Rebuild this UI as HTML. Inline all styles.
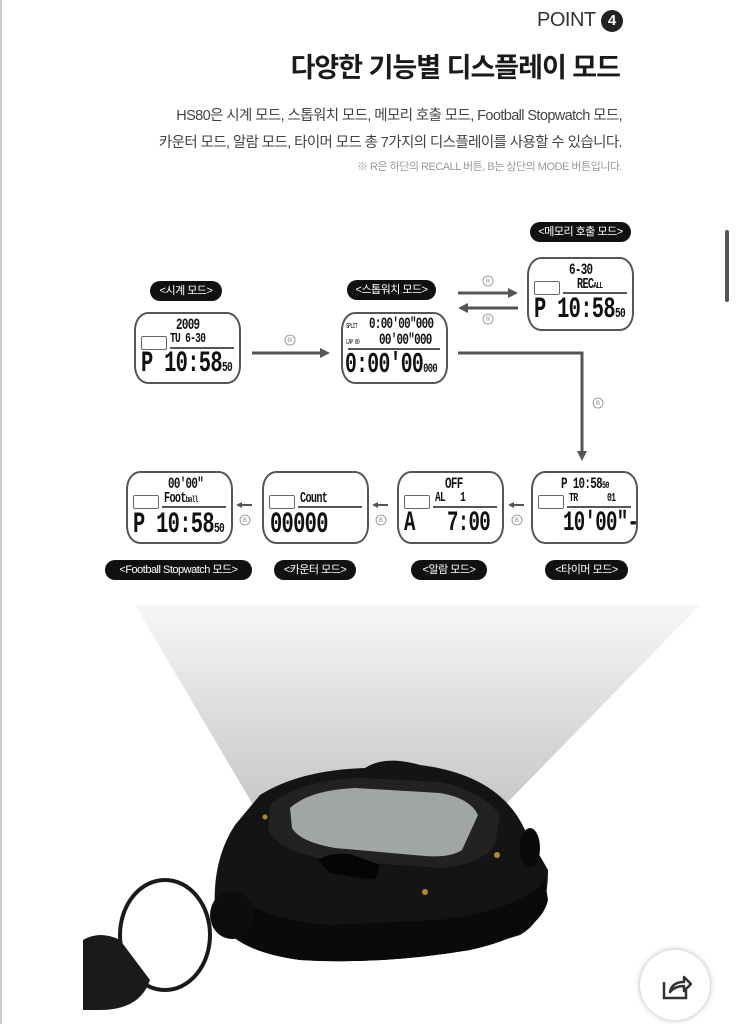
<!DOCTYPE html>
<html><head><meta charset="utf-8"><style>
body{margin:0;width:736px;height:1024px;background:#fff;position:relative;overflow:hidden;font-family:"Liberation Sans","Noto Sans CJK KR",sans-serif;}
.a{position:absolute}
.t{color:#222}
.lbl{position:absolute;background:#111;color:#fff;border-radius:12px;font-size:11px;height:20px;line-height:20px;text-align:center;letter-spacing:-0.5px}
.scr{position:absolute;border:2px solid #555;border-radius:14px/18px;background:#fff;font-family:"Liberation Mono",monospace;color:#111;overflow:hidden}
.scr .box{position:absolute;width:24px;height:12px;border:1.5px solid #666;border-radius:2px}
.scr .ln{position:absolute;height:1.5px;background:#555}
.scr span{position:absolute;white-space:nowrap;font-weight:bold;letter-spacing:-1px;transform:scaleX(0.68);transform-origin:0 0}
</style></head><body>
<div class="a" style="left:0;top:0;width:2px;height:1024px;background:#ccc"></div>
<div class="a" style="left:725px;top:230px;width:4px;height:72px;background:#555;border-radius:2px"></div>
<div class="a t" style="left:537px;top:9px;font-size:20px;color:#333;letter-spacing:-0.5px">POINT</div>
<div class="a" style="left:601px;top:10px;width:22px;height:22px;border-radius:50%;background:#222;color:#fff;font-size:15px;text-align:center;line-height:22px;font-weight:bold">4</div>
<div class="a t" style="right:116px;top:46px;font-size:27px;font-weight:bold;letter-spacing:-1px;color:#1a1a1a">다양한 기능별 디스플레이 모드</div>
<div class="a" style="right:114px;top:104px;font-size:14.5px;color:#444;letter-spacing:-0.6px">HS80은 시계 모드, 스톱워치 모드, 메모리 호출 모드, Football Stopwatch 모드,</div>
<div class="a" style="right:114px;top:131px;font-size:14.5px;color:#444;letter-spacing:-0.6px">카운터 모드, 알람 모드, 타이머 모드 총 7가지의 디스플레이를 사용할 수 있습니다.</div>
<div class="a" style="right:114px;top:158px;font-size:11px;color:#999;letter-spacing:-0.5px">※ R은 하단의 RECALL 버튼, B는 상단의 MODE 버튼입니다.</div>

<div class="lbl" style="left:530px;top:222px;width:101px">&lt;메모리 호출 모드&gt;</div>
<div class="lbl" style="left:150px;top:281px;width:72px">&lt;시계 모드&gt;</div>
<div class="lbl" style="left:347px;top:280px;width:89px">&lt;스톱워치 모드&gt;</div>
<div class="lbl" style="left:105px;top:560px;width:147px">&lt;Football Stopwatch 모드&gt;</div>
<div class="lbl" style="left:274px;top:560px;width:82px">&lt;카운터 모드&gt;</div>
<div class="lbl" style="left:411px;top:560px;width:76px">&lt;알람 모드&gt;</div>
<div class="lbl" style="left:545px;top:560px;width:83px">&lt;타이머 모드&gt;</div>

<!-- clock -->
<div class="scr" style="left:134px;top:312px;width:103px;height:68px">
<span style="left:40px;top:2px;font-size:16px">2009</span><span style="left:34px;top:17px;font-size:14px">TU 6-30</span>
<div class="box" style="left:5px;top:22px"></div><div class="ln" style="left:34px;top:33px;width:64px"></div>
<span style="left:5px;top:33px;font-size:30px">P 10:58<small style="font-size:14px">50</small></span></div>
<!-- stopwatch -->
<div class="scr" style="left:341px;top:312px;width:103px;height:68px">
<span style="left:3px;top:9px;font-size:7px;font-weight:normal">SPLIT</span><span style="left:26px;top:1px;font-size:16px">0:00'00"000</span>
<span style="left:3px;top:25px;font-size:7px;font-weight:normal">LAP 00</span><span style="left:36px;top:17px;font-size:16px">00'00"000</span>
<div class="ln" style="left:5px;top:34px;width:92px"></div>
<span style="left:2px;top:34px;font-size:29px">0:00'00<small style="font-size:13px">000</small></span></div>
<!-- memory -->
<div class="scr" style="left:527px;top:257px;width:103px;height:70px">
<span style="left:40px;top:2px;font-size:16px">6-30</span><span style="left:48px;top:17px;font-size:15px">REC<small style="font-size:9px">ALL</small></span>
<div class="box" style="left:5px;top:22px"></div><div class="ln" style="left:34px;top:33px;width:64px"></div>
<span style="left:5px;top:34px;font-size:30px">P 10:58<small style="font-size:14px">50</small></span></div>
<!-- timer -->
<div class="scr" style="left:531px;top:471px;width:103px;height:69px">
<span style="left:28px;top:2px;font-size:16px">P 10:58<small style="font-size:10px">50</small></span><span style="left:36px;top:18px;font-size:12px">TR&nbsp;&nbsp;&nbsp;&nbsp;&nbsp;&nbsp;&nbsp;01</span>
<div class="box" style="left:5px;top:22px"></div><div class="ln" style="left:34px;top:33px;width:64px"></div>
<span style="left:30px;top:35px;font-size:28px">10'00"-1</span></div>
<!-- alarm -->
<div class="scr" style="left:397px;top:471px;width:103px;height:69px">
<span style="left:46px;top:2px;font-size:16px">OFF</span><span style="left:36px;top:17px;font-size:14px">AL&nbsp;&nbsp;&nbsp;1</span>
<div class="box" style="left:5px;top:22px"></div><div class="ln" style="left:34px;top:33px;width:64px"></div>
<span style="left:5px;top:35px;font-size:28px">A&nbsp;&nbsp;&nbsp;7:00</span></div>
<!-- counter -->
<div class="scr" style="left:262px;top:471px;width:103px;height:69px">
<span style="left:36px;top:17px;font-size:15px">Count</span>
<div class="box" style="left:5px;top:22px"></div><div class="ln" style="left:34px;top:33px;width:64px"></div>
<span style="left:6px;top:35px;font-size:30px">00000</span></div>
<!-- football -->
<div class="scr" style="left:126px;top:471px;width:103px;height:69px">
<span style="left:40px;top:2px;font-size:16px">00'00"</span><span style="left:36px;top:17px;font-size:15px">Foot<small style="font-size:9px">ball</small></span>
<div class="box" style="left:5px;top:22px"></div><div class="ln" style="left:34px;top:33px;width:64px"></div>
<span style="left:5px;top:35px;font-size:30px">P 10:58<small style="font-size:14px">50</small></span></div>

<!-- arrows -->
<svg class="a" style="left:0;top:0" width="736" height="600">
<g fill="#555" stroke="#555" stroke-width="3">
<line x1="252" y1="353" x2="322" y2="353"/><polygon points="330,353 320,348 320,358" stroke="none"/>
<line x1="458" y1="293" x2="510" y2="293"/><polygon points="518,293 508,288 508,298" stroke="none"/>
<line x1="466" y1="308" x2="518" y2="308"/><polygon points="458,308 468,303 468,313" stroke="none"/>
<polyline points="458,353 582,353 582,452" fill="none"/><polygon points="582,461 577,451 587,451" stroke="none"/>
<g stroke-width="2"><line x1="524" y1="505" x2="513" y2="505"/><line x1="388" y1="505" x2="377" y2="505"/><line x1="252" y1="505" x2="241" y2="505"/></g>
<polygon points="508,505 514,502 514,508" stroke="none"/><polygon points="372,505 378,502 378,508" stroke="none"/><polygon points="236,505 242,502 242,508" stroke="none"/>
</g>
<g fill="none" stroke="#888" stroke-width="0.8"><circle cx="290" cy="340" r="5"/><circle cx="488" cy="281" r="5"/><circle cx="488" cy="319" r="5"/><circle cx="598" cy="403" r="5"/><circle cx="517" cy="520" r="5"/><circle cx="381" cy="520" r="5"/><circle cx="245" cy="520" r="5"/></g>
<g font-size="6" fill="#888" text-anchor="middle" font-family="Liberation Sans"><text x="290" y="342">B</text><text x="488" y="283">R</text><text x="488" y="321">R</text><text x="598" y="405">B</text><text x="517" y="522">B</text><text x="381" y="522">B</text><text x="245" y="522">B</text></g>
</svg>

<!-- watch photo (svg y = page y - 590) -->
<svg class="a" style="left:0;top:590px" width="736" height="434">
<defs><linearGradient id="g" x1="0" y1="0" x2="0" y2="1"><stop offset="0" stop-color="#f7f7f7"/><stop offset="0.5" stop-color="#dcdcdc"/><stop offset="1" stop-color="#c4c4c4"/></linearGradient></defs>
<polygon points="135,15 700,15 505,215 265,235" fill="url(#g)"/>
<path d="M260,205 Q300,180 365,178 Q385,165 420,175 Q500,185 525,240 L548,280 Q548,330 520,345 L470,360 Q380,375 300,370 Q230,360 215,320 Q212,270 235,235 Z" fill="#141414"/>
<path d="M230,300 Q260,330 330,335 L440,330 Q520,320 545,290 L548,310 Q540,345 470,360 Q380,375 300,370 Q225,360 215,320Z" fill="#0a0a0a"/>
<path d="M270,215 Q300,190 360,188 L440,192 Q480,200 500,225 L495,255 Q480,275 440,278 L330,270 Q280,262 268,240 Z" fill="#222"/>
<path d="M290,218 Q310,200 355,198 L440,203 Q470,208 478,225 L462,260 Q450,268 425,266 L335,258 Q300,252 292,238 Z" fill="#a2a6a2"/>
<path d="M318,270 Q330,262 350,264 L380,275 L375,290 L330,283 Z" fill="#050505"/>
<ellipse cx="530" cy="258" rx="10" ry="20" fill="#0a0a0a"/>
<circle cx="497" cy="265" r="3" fill="#b08a30"/><circle cx="425" cy="302" r="3" fill="#b08a30"/><circle cx="265" cy="227" r="2.5" fill="#b08a30"/>
<ellipse cx="165" cy="345" rx="45" ry="55" fill="none" stroke="#1a1a1a" stroke-width="4"/>
<ellipse cx="232" cy="325" rx="22" ry="24" fill="#0d0d0d"/>
<path d="M83,350 Q100,340 120,350 L150,390 Q140,420 100,420 L83,420 Z" fill="#1a1a1a"/>
</svg>
<div class="a" style="left:640px;top:950px;width:70px;height:70px;border-radius:50%;background:#fff;box-shadow:0 0 6px rgba(0,0,0,0.3)"></div>
<svg class="a" style="left:660px;top:970px" width="32" height="32"><path d="M4,12 L4,28 L26,28 L26,20" fill="none" stroke="#333" stroke-width="2.5"/><path d="M10,22 Q12,12 24,12 L24,7 L31,14 L24,21 L24,16 Q15,16 10,22Z" fill="none" stroke="#333" stroke-width="2.5" stroke-linejoin="round"/></svg>
</body></html>
